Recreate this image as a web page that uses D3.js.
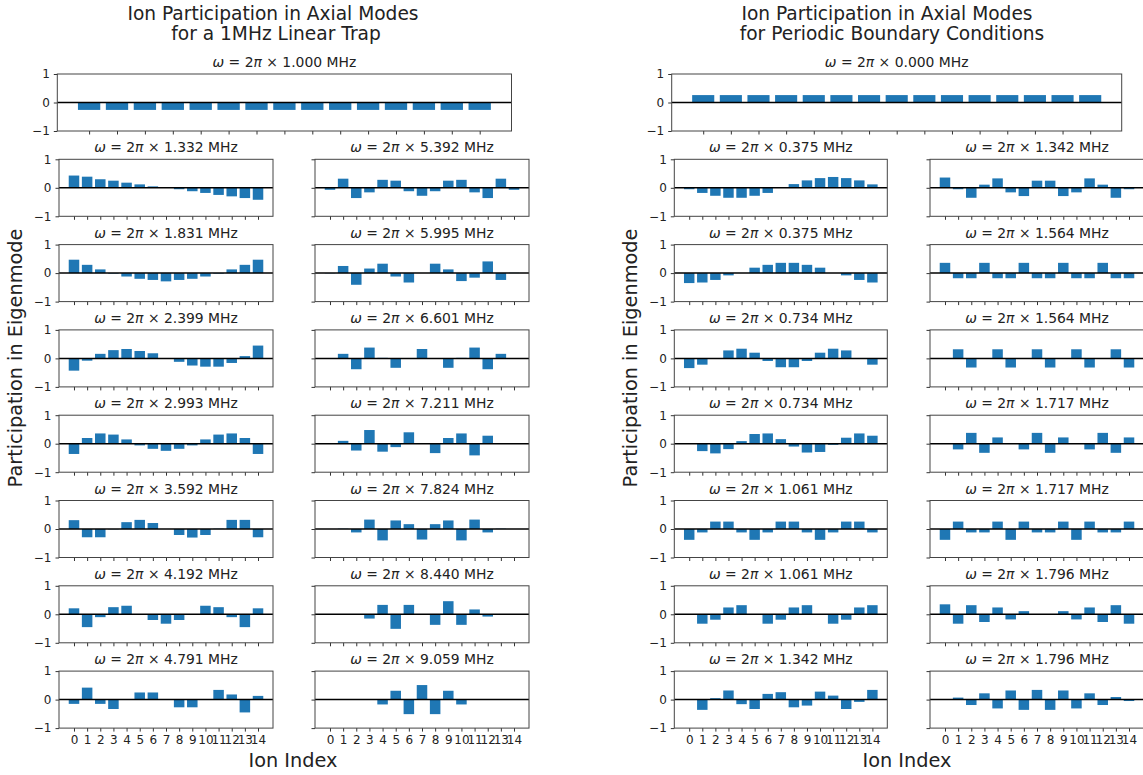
<!DOCTYPE html>
<html>
<head>
<meta charset="utf-8">
<script src="https://cdn.jsdelivr.net/npm/d3@7"></script>
<style>
  body { margin: 0; background: #fff; }
  svg { display: block; }
  text { font-family: "DejaVu Sans", sans-serif; fill: #222; }
</style>
</head>
<body>
<svg id="chart" width="1143" height="775"></svg>
<script>
// ---- data ----
const ionIndex = [0, 1, 2, 3, 4, 5, 6, 7, 8, 9, 10, 11, 12, 13, 14];
const yTicks = [-1, 0, 1];

// linear trap
const linearTopFreq = "1.000";
const linearTopMode = [-0.26, -0.26, -0.26, -0.26, -0.26, -0.26, -0.26, -0.26, -0.26, -0.26, -0.26, -0.26, -0.26, -0.26, -0.26];
const linearLeftFreqs = ["1.332", "1.831", "2.399", "2.993", "3.592", "4.192", "4.791"];
const linearRightFreqs = ["5.392", "5.995", "6.601", "7.211", "7.824", "8.440", "9.059"];
const linearLeftModes = [
  [0.43, 0.39, 0.30, 0.25, 0.18, 0.12, 0.05, 0.00, -0.05, -0.12, -0.18, -0.25, -0.30, -0.36, -0.42],
  [0.47, 0.29, 0.13, -0.02, -0.12, -0.20, -0.24, -0.29, -0.24, -0.20, -0.12, -0.02, 0.13, 0.29, 0.47],
  [-0.43, -0.08, 0.16, 0.29, 0.33, 0.26, 0.18, 0.00, -0.12, -0.25, -0.29, -0.29, -0.16, 0.08, 0.45],
  [-0.36, 0.20, 0.36, 0.32, 0.15, -0.06, -0.18, -0.25, -0.18, -0.06, 0.15, 0.32, 0.36, 0.20, -0.36],
  [0.31, -0.29, -0.29, -0.01, 0.24, 0.32, 0.21, 0.00, -0.21, -0.30, -0.21, 0.01, 0.32, 0.32, -0.29],
  [0.21, -0.45, -0.10, 0.25, 0.30, 0.01, -0.20, -0.33, -0.20, 0.01, 0.30, 0.25, -0.10, -0.45, 0.21],
  [-0.15, 0.42, -0.15, -0.33, -0.01, 0.25, 0.25, 0.00, -0.27, -0.27, 0.01, 0.34, 0.18, -0.45, 0.13]
];
const linearRightModes = [
  [-0.07, 0.32, -0.36, -0.16, 0.28, 0.25, -0.12, -0.28, -0.12, 0.25, 0.28, -0.16, -0.36, 0.32, -0.07],
  [-0.01, 0.25, -0.41, 0.16, 0.33, -0.12, -0.33, 0.00, 0.33, 0.13, -0.28, -0.16, 0.41, -0.24, 0.01],
  [0.00, 0.16, -0.38, 0.38, 0.02, -0.33, 0.00, 0.33, 0.00, -0.33, 0.02, 0.38, -0.38, 0.16, 0.00],
  [0.00, 0.10, -0.24, 0.48, -0.28, -0.12, 0.40, 0.00, -0.33, 0.20, 0.36, -0.41, 0.28, 0.02, 0.01],
  [0.00, 0.01, -0.12, 0.33, -0.40, 0.30, 0.17, -0.37, 0.17, 0.30, -0.40, 0.33, -0.12, 0.01, 0.00],
  [0.00, -0.01, 0.01, -0.15, 0.33, -0.51, 0.33, 0.00, -0.37, 0.46, -0.37, 0.17, -0.08, 0.00, 0.00],
  [0.00, 0.00, 0.01, 0.02, -0.17, 0.31, -0.51, 0.51, -0.51, 0.31, -0.17, 0.02, 0.01, 0.00, 0.00]
];

// periodic boundary conditions
const periodicTopFreq = "0.000";
const periodicTopMode = [0.26, 0.26, 0.26, 0.26, 0.26, 0.26, 0.26, 0.26, 0.26, 0.26, 0.26, 0.26, 0.26, 0.26, 0.26];
const periodicLeftFreqs = ["0.375", "0.375", "0.734", "0.734", "1.061", "1.061", "1.342"];
const periodicRightFreqs = ["1.342", "1.564", "1.564", "1.717", "1.717", "1.796", "1.796"];
const periodicLeftModes = [
  [-0.05, -0.18, -0.28, -0.35, -0.35, -0.28, -0.18, 0.00, 0.13, 0.26, 0.34, 0.38, 0.34, 0.26, 0.12],
  [-0.35, -0.33, -0.24, -0.08, 0.00, 0.19, 0.29, 0.36, 0.36, 0.29, 0.19, 0.00, -0.08, -0.24, -0.33],
  [-0.34, -0.22, 0.00, 0.28, 0.34, 0.20, -0.09, -0.31, -0.31, -0.09, 0.20, 0.34, 0.28, 0.00, -0.22],
  [0.00, -0.26, -0.34, -0.19, 0.09, 0.34, 0.36, 0.16, -0.10, -0.31, -0.29, -0.04, 0.21, 0.36, 0.28],
  [-0.38, -0.12, 0.26, 0.26, -0.12, -0.38, -0.12, 0.26, 0.26, -0.12, -0.38, -0.12, 0.26, 0.26, -0.12],
  [0.00, -0.33, -0.19, 0.24, 0.32, 0.00, -0.33, -0.19, 0.24, 0.32, 0.00, -0.33, -0.19, 0.24, 0.32],
  [0.00, -0.36, 0.05, 0.32, -0.16, -0.33, 0.20, 0.26, -0.27, -0.21, 0.28, 0.14, -0.33, -0.08, 0.34]
];
const periodicRightModes = [
  [0.36, -0.05, -0.35, 0.11, 0.33, -0.16, -0.29, 0.25, 0.25, -0.29, -0.16, 0.33, 0.11, -0.35, -0.05],
  [0.36, -0.18, -0.18, 0.36, -0.18, -0.18, 0.36, -0.18, -0.18, 0.36, -0.18, -0.18, 0.36, -0.18, -0.18],
  [0.00, 0.32, -0.32, 0.00, 0.32, -0.32, 0.00, 0.32, -0.32, 0.00, 0.32, -0.32, 0.00, 0.32, -0.32],
  [0.00, -0.20, 0.38, -0.32, 0.22, 0.00, -0.20, 0.38, -0.32, 0.22, 0.00, -0.20, 0.38, -0.32, 0.22],
  [-0.38, 0.26, -0.12, -0.12, 0.26, -0.38, 0.26, -0.12, -0.12, 0.26, -0.38, 0.26, -0.12, -0.12, 0.26],
  [0.35, -0.33, 0.32, -0.27, 0.24, -0.18, 0.11, 0.00, 0.00, 0.11, -0.18, 0.24, -0.27, 0.32, -0.33],
  [0.00, 0.07, -0.19, 0.22, -0.31, 0.32, -0.36, 0.34, -0.36, 0.32, -0.31, 0.22, -0.19, 0.09, -0.05]
];

// ---- layout ----
const svg = d3.select("#chart");
const barColor = "#1f77b4";
const panelH = 57;
const rowTop = r => 74 + 85.3 * r;

function drawPanel(x0, x1, y0, freq, values, showY, showX) {
  const x = d3.scaleLinear().domain([-1.14, 15.14]).range([x0, x1]);
  const y = d3.scaleLinear().domain([-1, 1]).range([y0 + panelH, y0]);
  const g = svg.append("g");

  g.selectAll("rect.bar")
    .data(values)
    .enter().append("rect")
    .attr("class", "bar")
    .attr("x", (d, i) => x(ionIndex[i] - 0.4))
    .attr("width", x(0.8) - x(0))
    .attr("y", d => y(Math.max(0, d)))
    .attr("height", d => Math.abs(y(d) - y(0)))
    .style("fill", barColor);

  // zero line
  g.append("line")
    .attr("x1", x0).attr("x2", x1)
    .attr("y1", y(0)).attr("y2", y(0))
    .style("stroke", "#000").style("stroke-width", 1.5);

  const xAxis = d3.axisBottom(x).tickValues(ionIndex).tickSize(3.5).tickPadding(4)
    .tickFormat(d => showX ? d : "");
  const gx = g.append("g").attr("transform", `translate(0,${y0 + panelH})`).call(xAxis);
  gx.select(".domain").remove();
  gx.selectAll("text").style("font-size", "12px").style("font-family", "DejaVu Sans").attr("fill", "#222");
  gx.selectAll("line").attr("stroke", "#333");

  const yAxis = d3.axisLeft(y).tickValues(yTicks).tickSize(3.5).tickPadding(4)
    .tickFormat(d => showY ? (d < 0 ? "\u2212" + Math.abs(d) : d) : "");
  const gy = g.append("g").attr("transform", `translate(${x0},0)`).call(yAxis);
  gy.select(".domain").remove();
  gy.selectAll("text").style("font-size", "12px").style("font-family", "DejaVu Sans").attr("fill", "#222");
  gy.selectAll("line").attr("stroke", "#333");

  // frame
  g.append("rect")
    .attr("x", x0).attr("y", y0)
    .attr("width", x1 - x0).attr("height", panelH)
    .style("fill", "none").style("stroke", "#444").style("stroke-width", 1);

  // subplot title
  const t = g.append("text")
    .attr("x", (x0 + x1) / 2).attr("y", y0 - 7)
    .attr("text-anchor", "middle")
    .style("font-size", "13.9px");
  t.append("tspan").style("font-style", "italic").text("\u03c9");
  t.append("tspan").text(" = 2");
  t.append("tspan").style("font-style", "italic").text("\u03c0");
  t.append("tspan").text(" \u00d7 " + freq + " MHz");
}

function drawFigure(cfg) {
  cfg.title.forEach((line, i) => {
    svg.append("text")
      .attr("x", cfg.titleX[i]).attr("y", 20 + i * 19.5)
      .attr("text-anchor", "middle")
      .style("font-size", "18.6px")
      .text(line);
  });

  drawPanel(cfg.topX[0], cfg.topX[1], rowTop(0), cfg.topFreq, cfg.topMode, true, false);
  cfg.leftFreqs.forEach((f, r) => {
    drawPanel(cfg.leftX[0], cfg.leftX[1], rowTop(r + 1), f, cfg.leftModes[r], true, r === 6);
  });
  cfg.rightFreqs.forEach((f, r) => {
    drawPanel(cfg.rightX[0], cfg.rightX[1], rowTop(r + 1), f, cfg.rightModes[r], false, r === 6);
  });

  svg.append("text")
    .attr("transform", `translate(${cfg.yLabelX},358) rotate(-90)`)
    .attr("text-anchor", "middle")
    .style("font-size", "19.3px")
    .text("Participation in Eigenmode");

  svg.append("text")
    .attr("x", cfg.xLabelX).attr("y", 767)
    .attr("text-anchor", "middle")
    .style("font-size", "19.3px")
    .text("Ion Index");
}

drawFigure({
  title: ["Ion Participation in Axial Modes", "for a 1MHz Linear Trap"],
  titleX: [273, 276],
  topX: [57.3, 511.5], leftX: [59, 273], rightX: [315, 529],
  topFreq: linearTopFreq, topMode: linearTopMode,
  leftFreqs: linearLeftFreqs, leftModes: linearLeftModes,
  rightFreqs: linearRightFreqs, rightModes: linearRightModes,
  yLabelX: 22, xLabelX: 293
});

drawFigure({
  title: ["Ion Participation in Axial Modes", "for Periodic Boundary Conditions"],
  titleX: [887, 892],
  topX: [671.7, 1121.7], leftX: [674.3, 887.3], rightX: [930, 1144],
  topFreq: periodicTopFreq, topMode: periodicTopMode,
  leftFreqs: periodicLeftFreqs, leftModes: periodicLeftModes,
  rightFreqs: periodicRightFreqs, rightModes: periodicRightModes,
  yLabelX: 637, xLabelX: 907
});
</script>
</body>
</html>
